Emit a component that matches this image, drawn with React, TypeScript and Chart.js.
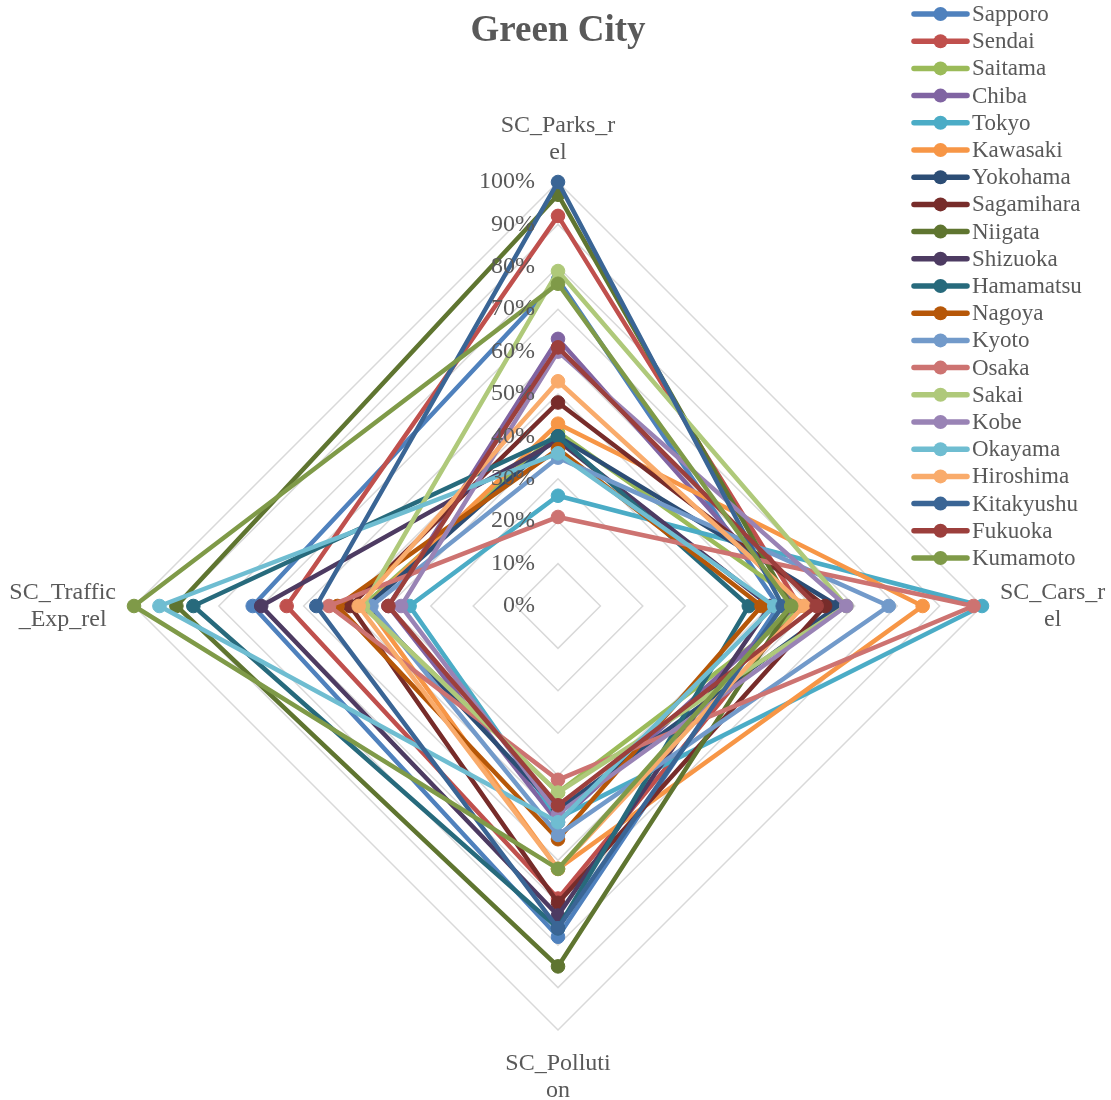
import React, { useEffect, useRef } from "react";
import { Chart, registerables } from "chart.js";

Chart.register(...registerables);

const axisLabels: string[][] = [
  ["SC_Parks_r", "el"],
  ["SC_Cars_r", "el"],
  ["SC_Polluti", "on"],
  ["SC_Traffic", "_Exp_rel"],
];

const cities = [
  "Sapporo", "Sendai", "Saitama", "Chiba", "Tokyo", "Kawasaki", "Yokohama",
  "Sagamihara", "Niigata", "Shizuoka", "Hamamatsu", "Nagoya", "Kyoto", "Osaka",
  "Sakai", "Kobe", "Okayama", "Hiroshima", "Kitakyushu", "Fukuoka", "Kumamoto",
];

const colors = [
  "#4F81BD", "#C0504D", "#9BBB59", "#8064A2", "#4BACC6", "#F79646", "#2C4D75",
  "#772C2A", "#5F7530", "#4D3B62", "#276A7C", "#B65708", "#729ACA", "#CD7371",
  "#AFC97A", "#9983B5", "#6FBDD1", "#F9AB6B", "#3A6595", "#9C3F3C", "#7F9A48",
];

// Values per axis: Parks, Cars, Pollution, Traffic (percent)
const sapporo = [77, 52, 78, 72];
const sendai = [92, 57, 69, 64];
const saitama = [41, 58, 44, 46];
const chiba = [63, 56, 51, 40];
const tokyo = [26, 100, 50, 35];
const kawasaki = [43, 86, 62, 45];
const yokohama = [40, 66, 48, 45];
const sagamihara = [48, 63, 70, 49];
const niigata = [97, 55, 85, 90];
const shizuoka = [39, 50, 73, 70];
const hamamatsu = [40, 45, 76, 86];
const nagoya = [37, 48, 55, 52];
const kyoto = [35, 78, 54, 44];
const osaka = [21, 98, 41, 54];
const sakai = [79, 68, 44, 46];
const kobe = [60, 68, 49, 37];
const okayama = [36, 51, 51, 94];
const hiroshima = [53, 58, 62, 47];
const kitakyushu = [100, 53, 76, 57];
const fukuoka = [61, 61, 47, 40];
const kumamoto = [76, 55, 62, 100];

const seriesValues = [
  sapporo, sendai, saitama, chiba, tokyo, kawasaki, yokohama, sagamihara,
  niigata, shizuoka, hamamatsu, nagoya, kyoto, osaka, sakai, kobe, okayama,
  hiroshima, kitakyushu, fukuoka, kumamoto,
];

const tickValues = [0, 10, 20, 30, 40, 50, 60, 70, 80, 90, 100];

const FONT = "'Liberation Serif', 'Times New Roman', serif";
const TEXT = "#595959";

const overlayPlugin = {
  id: "overlay",
  afterDraw(chart: any) {
    const ctx = chart.ctx as CanvasRenderingContext2D;
    const scale = chart.scales.r;
    ctx.save();
    ctx.fillStyle = TEXT;
    ctx.font = `24px ${FONT}`;
    // tick labels
    ctx.textAlign = "right";
    ctx.textBaseline = "middle";
    tickValues.forEach((v) => {
      const d = scale.getDistanceFromCenterForValue(v);
      ctx.fillText(v + "%", scale.xCenter - 23, scale.yCenter - d);
    });
    // axis labels
    ctx.textAlign = "center";
    const lh = 27;
    axisLabels.forEach((lines, i) => {
      const p = scale.getPointPosition(i, scale.drawingArea);
      const maxW = Math.max(...lines.map((l) => ctx.measureText(l).width));
      let cx = p.x;
      let cy = p.y;
      const blockH = lh * lines.length;
      if (i === 0) {
        cy = p.y - 16 - blockH / 2;
      } else if (i === 1) {
        cx = p.x + 18 + maxW / 2;
      } else if (i === 2) {
        cy = p.y + 20 + blockH / 2;
      } else {
        cx = p.x - 18 - maxW / 2;
      }
      lines.forEach((l, k) => {
        ctx.fillText(l, cx, cy - blockH / 2 + lh / 2 + k * lh);
      });
    });
    // legend
    ctx.textAlign = "left";
    ctx.font = `23px ${FONT}`;
    cities.forEach((name, i) => {
      const y = 14 + i * 27.2;
      ctx.strokeStyle = colors[i];
      ctx.lineWidth = 5.5;
      ctx.lineCap = "round";
      ctx.beginPath();
      ctx.moveTo(914, y);
      ctx.lineTo(967, y);
      ctx.stroke();
      ctx.fillStyle = colors[i];
      ctx.beginPath();
      ctx.arc(940.5, y, 7, 0, Math.PI * 2);
      ctx.fill();
      ctx.fillStyle = TEXT;
      ctx.fillText(name, 972, y + 1);
    });
    ctx.restore();
  },
};

export default function App() {
  const ref = useRef<HTMLCanvasElement>(null);
  useEffect(() => {
    if (!ref.current) return;
    const chart = new Chart(ref.current, {
      type: "radar",
      data: {
        labels: axisLabels.map((l) => l.join("")),
        datasets: cities.map((name, i) => ({
          label: name,
          data: seriesValues[i],
          borderColor: colors[i],
          backgroundColor: colors[i],
          pointBackgroundColor: colors[i],
          pointBorderColor: colors[i],
          borderWidth: 4.5,
          pointRadius: 6.8,
          pointBorderWidth: 1,
          fill: false,
          order: -i,
        })),
      },
      options: {
        responsive: false,
        animation: false,
        layout: { padding: { left: 134, right: 129, top: 0, bottom: 70 } },
        plugins: {
          legend: { display: false },
          tooltip: { enabled: false },
          title: {
            display: true,
            text: "Green City",
            color: TEXT,
            font: { family: FONT, size: 37, weight: "bold" },
            padding: { top: 9, bottom: 128.6 },
          },
        },
        scales: {
          r: {
            min: 0,
            max: 100,
            ticks: { display: false, stepSize: 10 },
            pointLabels: { display: false },
            angleLines: { display: false },
            grid: { color: "#D9D9D9", lineWidth: 1.5, circular: false },
          },
        },
      },
      plugins: [overlayPlugin],
    });
    return () => chart.destroy();
  }, []);
  return (
    <div style={{ position: "absolute", left: 0, top: 0, width: 1111, height: 1100 }}>
      <canvas ref={ref} width={1111} height={1100} style={{ display: "block" }} />
    </div>
  );
}
